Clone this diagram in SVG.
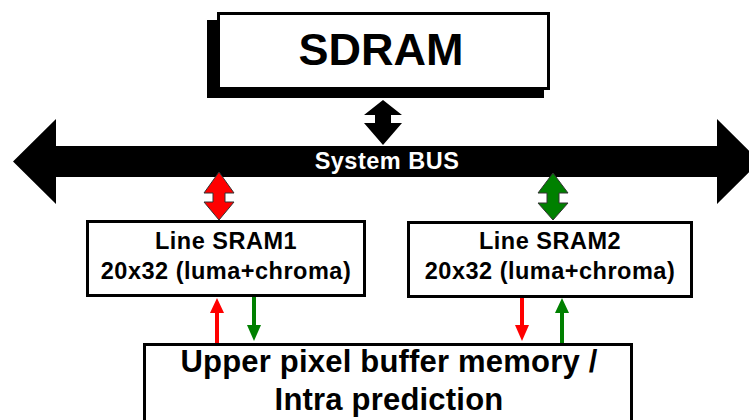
<svg xmlns="http://www.w3.org/2000/svg" width="749" height="420" viewBox="0 0 749 420">
<style>
.t{font-family:"Liberation Sans",Arial,Helvetica,sans-serif;font-weight:bold;text-anchor:middle}
.box{fill:#fff;stroke:#000;stroke-width:3}
.lbl{font-size:23.5px;letter-spacing:0.5px;fill:#000}
.r{stroke:#ff0000;fill:#ff0000}
.g{stroke:#008000;fill:#008000}
</style>
<rect width="749" height="420" fill="#fff"/>
<g id="sdram">
<rect x="207" y="20" width="337" height="78" fill="#000"/>
<rect class="box" x="218.5" y="13.5" width="330" height="75"/>
<text class="t" x="381" y="65" font-size="45">SDRAM</text>
</g>
<g id="bus">
<polygon points="13,161.5 56,119 56,146 717,146 717,119 760,161.5 717,204 717,177 56,177 56,204" fill="#000"/>
<text class="t" x="387" y="169" font-size="23.5" fill="#fff" letter-spacing="0.5">System BUS</text>
</g>
<g id="sram1">
<rect class="box" x="87.5" y="221.5" width="277" height="74"/>
<text class="t lbl" x="226" y="249">Line SRAM1</text>
<text class="t lbl" x="226" y="279">20x32 (luma+chroma)</text>
</g>
<g id="sram2">
<rect class="box" x="408.5" y="222.5" width="283" height="74"/>
<text class="t lbl" x="550" y="249">Line SRAM2</text>
<text class="t lbl" x="550" y="279">20x32 (luma+chroma)</text>
</g>
<g id="upper">
<rect class="box" x="144.5" y="344.5" width="487" height="100"/>
<text class="t" x="389" y="372" font-size="31" letter-spacing="0.2">Upper pixel buffer memory /</text>
<text class="t" x="389" y="410" font-size="31" letter-spacing="0.2">Intra prediction</text>
</g>
<g id="connectors">
<polygon points="383,100 402,115 391,115 391,123 402,123 383,145 364,123 375,123 375,115 364,115" fill="#000"/>
<polygon points="219,172 234,193 225,193 225,202 234,202 219,220 204,202 213,202 213,193 204,193" fill="#ff0000" stroke="#333" stroke-width="1"/>
<polygon points="553,173 568,193 559,193 559,203 568,203 553,220 538,203 547,203 547,193 538,193" fill="#008000" stroke="#333" stroke-width="1"/>
<line class="r" x1="217" y1="343" x2="217" y2="311" stroke-width="4"/>
<polygon class="r" points="217,298 224,313 210,313" stroke-width="0"/>
<line class="g" x1="254" y1="297" x2="254" y2="327" stroke-width="4"/>
<polygon class="g" points="254,341 247,325 261,325" stroke-width="0"/>
<line class="r" x1="522" y1="298" x2="522" y2="327" stroke-width="4"/>
<polygon class="r" points="522,341 515,325 529,325" stroke-width="0"/>
<line class="g" x1="562" y1="343" x2="562" y2="311" stroke-width="4"/>
<polygon class="g" points="562,298 569,313 555,313" stroke-width="0"/>
</g>
</svg>
